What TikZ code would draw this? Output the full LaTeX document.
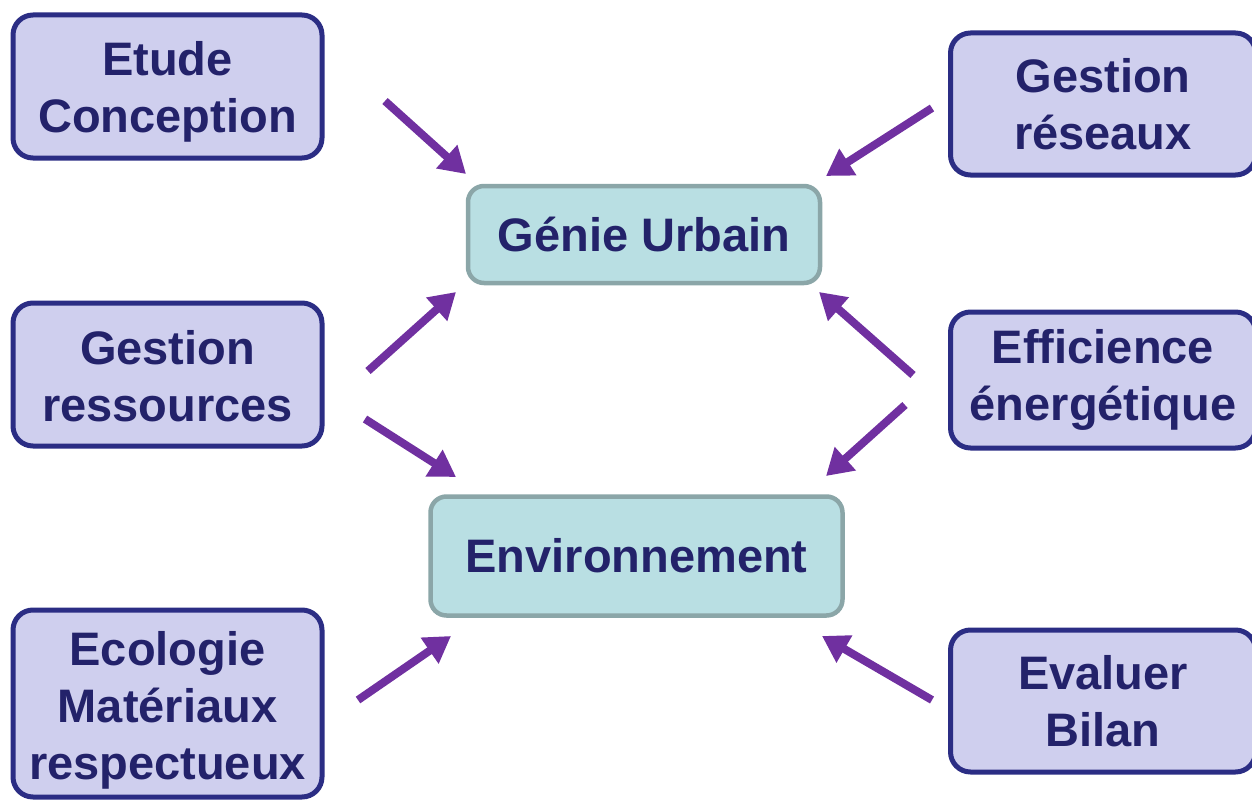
\documentclass[tikz,border=0pt]{standalone}
\usepackage{fontspec}
\setmainfont{Liberation Sans}
\usetikzlibrary{arrows.meta}
\definecolor{boxfill}{HTML}{CFCFEE}
\definecolor{boxline}{HTML}{2B2D84}
\definecolor{ctrfill}{HTML}{B9DFE3}
\definecolor{ctrline}{HTML}{8BA6A8}
\definecolor{txt}{HTML}{23226A}
\definecolor{arr}{HTML}{7030A0}
\tikzset{
  boxtext/.style={inner sep=0pt, align=center, text=txt,
    font=\fontsize{47}{57}\selectfont\bfseries},
  sidebox/.style={draw=boxline, fill=boxfill, line width=5pt, rounded corners=20pt,
    inner sep=0pt},
  ctrbox/.style={draw=ctrline, fill=ctrfill, line width=4.5pt, rounded corners=16pt,
    boxtext},
  flow/.style={draw=arr, line width=8pt, -{Triangle[length=26pt,width=30pt]}}
}
\begin{document}
\begin{tikzpicture}[x=1pt,y=-1pt]
\useasboundingbox (0,0) rectangle (1252,800);
% side boxes
\node[sidebox, minimum width=309pt, minimum height=143pt] (etude) at (167.5,86.5) {};
\node[sidebox, minimum width=309pt, minimum height=143pt] (gres) at (167.5,374.5) {};
\node[sidebox, minimum width=309pt, minimum height=187pt] (eco) at (167.5,703.5) {};
\node[sidebox, minimum width=305pt, minimum height=142pt] (gresx) at (1103,104) {};
\node[sidebox, minimum width=305pt, minimum height=136pt] (eff) at (1103,380) {};
\node[sidebox, minimum width=305pt, minimum height=142pt] (eval) at (1103,701) {};
\node[boxtext] (etudet) at ([yshift=-5pt]etude.center) {Etude\\Conception};
\node[boxtext] (grest) at ([yshift=-2pt]gres.center) {Gestion\\ressources};
\node[boxtext] (ecot) at ([yshift=-7pt]eco.center) {Ecologie\\Matériaux\\respectueux};
\node[boxtext] (gresxt) at (gresx.center) {Gestion\\réseaux};
\node[boxtext] (efft) at (eff.center) {Efficience\\énergétique};
\node[boxtext] (evalt) at (eval.center) {Evaluer\\Bilan};
% centre boxes
\node[ctrbox, minimum width=352pt, minimum height=97pt] (genie) at (644,234.5) {Génie Urbain};
\node[ctrbox, minimum width=412pt, minimum height=119pt] (env) at (636.5,556) {Environnement};
% arrow ends
\coordinate (t1) at (385,101);  \coordinate (h1) at (466,174);
\coordinate (t2) at (932,108);  \coordinate (h2) at (826,176);
\coordinate (t3) at (368,371);  \coordinate (h3) at (456,292);
\coordinate (t4) at (913,375);  \coordinate (h4) at (819,292);
\coordinate (t5) at (365,419);  \coordinate (h5) at (456,477);
\coordinate (t6) at (905,405);  \coordinate (h6) at (826,476);
\coordinate (t7) at (358,700);  \coordinate (h7) at (451,636);
\coordinate (t8) at (932,700);  \coordinate (h8) at (822,636);
\foreach \i in {1,...,8} {\draw[flow] (t\i) -- (h\i);}
\end{tikzpicture}
\end{document}
